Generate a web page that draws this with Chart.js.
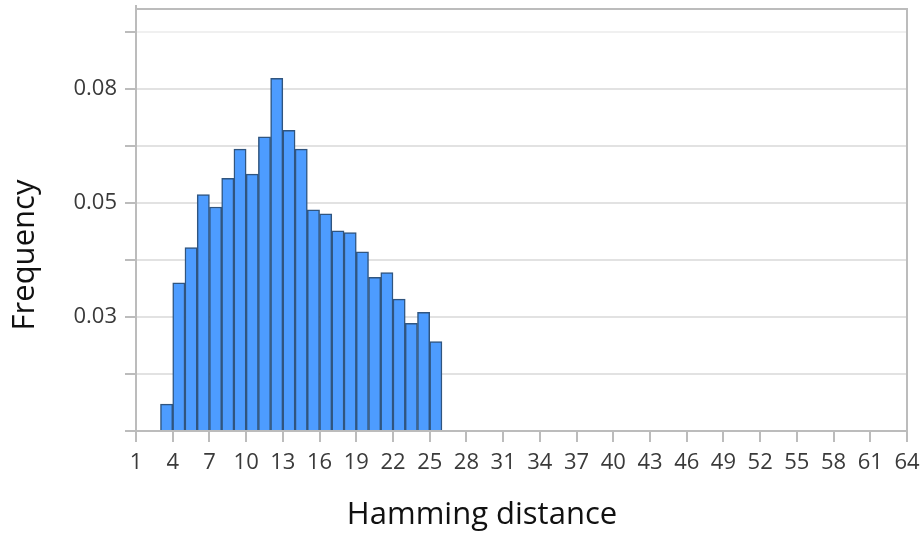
<!DOCTYPE html>
<html>
<head>
<meta charset="utf-8">
<script src="https://cdn.jsdelivr.net/npm/chart.js@4.4.0/dist/chart.umd.min.js"></script>
<style>
  body { margin: 0; background: #fff; }
</style>
</head>
<body>
<canvas id="myChart" width="923" height="535"></canvas>
<script>
// hamming distance bins (each bar spans d..d+1)
var distances = [3, 4, 5, 6, 7, 8, 9, 10, 11, 12, 13, 14, 15, 16, 17, 18, 19, 20, 21, 22, 23, 24, 25];
var frequency = [0.0059, 0.0325, 0.0402, 0.0518, 0.0491, 0.0554, 0.0618, 0.0563, 0.0645, 0.0773, 0.0659, 0.0618,
                 0.0485, 0.0476, 0.0439, 0.0435, 0.0393, 0.0337, 0.0347, 0.0289, 0.0236, 0.0260, 0.0196];

var xTicks = [1, 4, 7, 10, 13, 16, 19, 22, 25, 28, 31, 34, 37, 40, 43, 46, 49, 52, 55, 58, 61, 64];
var yTicks = [0, 0.0125, 0.025, 0.0375, 0.05, 0.0625, 0.075, 0.0875];
var yTickLabels = ['', '', '0.03', '', '0.05', '', '0.08', ''];
var xTitle = 'Hamming distance';
var yTitle = 'Frequency';

var points = distances.map(function (d, i) {
    return { x: d + 0.5, y: frequency[i] };
});

// plot frame (top + right) and the axis titles, which sit off-centre in the original
var frame = {
    id: 'frame',
    afterDraw: function (chart) {
        var c = chart.ctx, a = chart.chartArea;
        c.save();
        c.strokeStyle = '#bcbcbc';
        c.lineWidth = 2;
        c.beginPath();
        c.moveTo(a.left, a.top - 4);
        c.lineTo(a.left, a.top);
        c.lineTo(a.right, a.top);
        c.lineTo(a.right, a.bottom);
        c.stroke();

        c.fillStyle = '#111';
        c.font = '31px "Open Sans"';
        c.textAlign = 'center';
        c.textBaseline = 'middle';
        c.fillText(xTitle, 482, 515);
        c.translate(25, 255);
        c.rotate(-Math.PI / 2);
        c.fillText(yTitle, 0, 0);
        c.restore();
    }
};

var ctx = document.getElementById('myChart').getContext('2d');
var chart = new Chart(ctx, {
    type: 'bar',
    data: {
        datasets: [{
            data: points,
            backgroundColor: '#4d9cff',
            borderColor: '#30557f',
            borderWidth: 1.5,
            barPercentage: 1,
            categoryPercentage: 1
        }]
    },
    options: {
        responsive: false,
        animation: false,
        layout: { padding: { top: 9, right: 16, left: 0, bottom: 0 } },
        plugins: { legend: { display: false }, tooltip: { enabled: false } },
        scales: {
            x: {
                type: 'linear',
                min: 1,
                max: 64,
                offset: false,
                afterBuildTicks: function (scale) {
                    scale.ticks = xTicks.map(function (v) { return { value: v }; });
                },
                afterFit: function (scale) {
                    scale.height = 104;
                    scale.paddingLeft = 0;
                    scale.paddingRight = 0;
                },
                grid: { offset: false, drawOnChartArea: false, tickLength: 11, tickColor: '#bcbcbc', lineWidth: 2 },
                border: { color: '#bcbcbc', width: 2 },
                ticks: {
                    autoSkip: false,
                    maxRotation: 0,
                    padding: 8,
                    color: '#3a3a3a',
                    font: { family: 'Open Sans', size: 22 }
                }
            },
            y: {
                min: 0,
                max: 0.0925,
                afterBuildTicks: function (scale) {
                    scale.ticks = yTicks.map(function (v) { return { value: v }; });
                },
                afterFit: function (scale) {
                    scale.width = 136;
                    scale.paddingTop = 0;
                    scale.paddingBottom = 0;
                },
                grid: {
                    color: function (c) { return c.index === yTicks.length - 1 ? '#f0f0f0' : '#e2e2e2'; },
                    lineWidth: 2,
                    tickLength: 11,
                    tickColor: '#bcbcbc'
                },
                border: { color: '#bcbcbc', width: 2 },
                ticks: {
                    padding: 8,
                    color: '#3a3a3a',
                    font: { family: 'Open Sans', size: 22 },
                    callback: function (value, index) { return yTickLabels[index]; }
                }
            }
        }
    },
    plugins: [frame]
});
</script>
</body>
</html>
